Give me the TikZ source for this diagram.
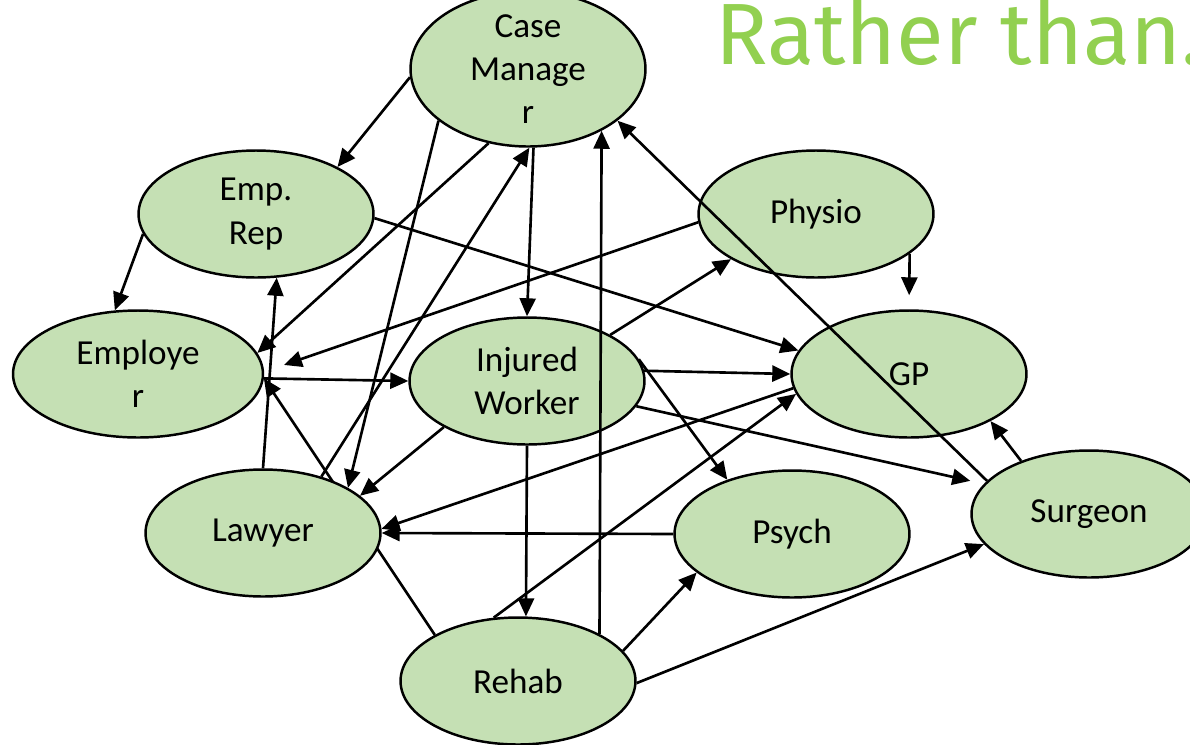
\documentclass[tikz,border=0pt]{standalone}
\usepackage{fontspec}
\setmainfont{Carlito}
\newfontfamily\titlefont{Fira Sans}
\usetikzlibrary{shapes.geometric,arrows.meta,backgrounds}
\definecolor{nodegreen}{HTML}{C5E0B4}
\definecolor{titlegreen}{HTML}{92D050}
\begin{document}
\begin{tikzpicture}[x=0.02cm,y=-0.02cm,
  actor/.style={ellipse,draw,line width=1.4pt,fill=nodegreen,minimum width=4.7cm,
    minimum height=2.54cm,inner sep=0pt,align=center,
    font=\fontsize{20pt}{24.7pt}\selectfont},
  flow/.style={line width=1.5pt,-{Triangle[length=0.36cm,width=0.32cm]}}]
\useasboundingbox (0,0) rectangle (1190,744);
\clip (0,0) rectangle (1190,744);

\node[anchor=base west,inner sep=0pt,text=titlegreen,font=\titlefont\fontsize{49.5pt}{52pt}\selectfont] (title) at (715,64) {Rather than.};

\node[actor] (cm) at (528,69) {Case\\Manage\\r};
\node[actor] (emprep) at (256,214) {Emp.\\Rep};
\node[actor] (physio) at (816,214) {Physio};
\node[actor,minimum width=5cm] (employer) at (138,374) {Employe\\r};
\node[actor] (iw) at (527,381) {Injured\\Worker};
\node[actor] (gp) at (909,374) {GP};
\node[actor] (lawyer) at (263,533) {Lawyer};
\node[actor] (psych) at (792,534) {Psych};
\node[actor] (surgeon) at (1089,514) {Surgeon};
\node[actor] (rehab) at (518,681) {Rehab};

% from the case manager
\draw[flow] (cm.184) -- (emprep.30);
\draw[flow] (cm.274) -- (iw.90);
\draw[flow] (cm.210) -- (lawyer.28);
\draw[flow] (cm.242) -- (employer.10);

% employer side
\draw[flow] (emprep.190) -- (employer.110);
\draw[flow] (emprep.358) -- (gp.168);
\draw[flow] (employer.358) -- (iw.180);
\draw[flow] (lawyer.44) -- (cm.271);
\draw[flow] (lawyer.90) -- (emprep.288);

% physio, gp, surgeon
\draw[flow,shorten >=0.42cm] (physio.184) -- (employer.1);
\draw[flow,shorten >=0.28cm] (physio.337) -- (gp.90);
\draw[flow] (surgeon.162) -- (cm.330);
\draw[flow] (surgeon.142) -- (gp.330);
\draw[flow] (gp.187) -- (lawyer.2);
\draw[flow] (psych.180) -- (lawyer.0);

% injured worker
\draw[flow] (iw.29) -- (physio.208);
\draw[flow] (iw.5) -- (gp.180);
\draw[flow] (iw.11) -- (psych.140);
\draw[flow,shorten >=0.28cm] (iw.347) -- (surgeon.164);
\draw[flow] (iw.209) -- (lawyer.21);
\draw[flow] (iw.270) -- (rehab.83);

% rehab
\draw[flow] (rehab.30) -- (cm.320);
\draw[flow] (rehab.111) -- (gp.190);
\draw[flow] (rehab.16) -- (psych.202);
\draw[flow] (rehab.359) -- (surgeon.196);
\begin{scope}[on background layer]
\draw[flow] (rehab.151) -- (employer.358);
\end{scope}

\end{tikzpicture}
\end{document}
